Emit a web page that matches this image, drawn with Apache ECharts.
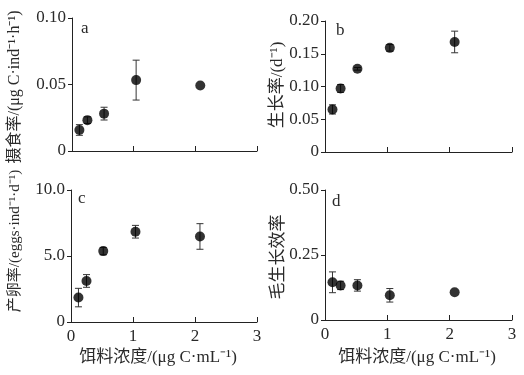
<!DOCTYPE html>
<html>
<head>
<meta charset="utf-8">
<script src="https://cdn.jsdelivr.net/npm/echarts@6/dist/echarts.min.js"></script>
<style>html,body{margin:0;padding:0;background:#fff}#c{width:524px;height:375px}</style>
</head>
<body>
<div id="c"></div>
<script>
// Food concentration (μg C·mL⁻¹)
var conc = [0.12, 0.25, 0.52, 1.04, 2.08];
// a: ingestion rate
var ingestion = [0.0158, 0.0232, 0.0281, 0.0533, 0.0492];
var ingestionErr = [0.004, 0.0025, 0.0048, 0.015, 0];
// b: growth rate
var growth = [0.065, 0.097, 0.127, 0.159, 0.168];
var growthErr = [0.007, 0.006, 0.002, 0.005, 0.0165];
// c: egg production rate
var eggs = [1.85, 3.11, 5.37, 6.84, 6.48];
var eggsErr = [0.7, 0.48, 0.28, 0.48, 0.97];
// d: gross growth efficiency
var gge = [0.145, 0.133, 0.133, 0.095, 0.107];
var ggeErr = [0.040, 0.016, 0.022, 0.026, 0];

var xTicks = ['0', '1', '2', '3'];
var yTickA = ['0', '0.05', '0.10'];
var yTickB = ['0', '0.05', '0.10', '0.15', '0.20'];
var yTickC = ['0', '5.0', '10.0'];
var yTickD = ['0', '0.25', '0.50'];

var panelLetters = ['a', 'b', 'c', 'd'];
var yTitles = ['摄食率/(μg C·ind⁻¹·h⁻¹)', '生长率/(d⁻¹)', '产卵率/(eggs·ind⁻¹·d⁻¹)', '毛生长效率'];
var xTitle = '饵料浓度/(μg C·mL⁻¹)';

var FONT = '"Liberation Serif", "Times New Roman", "Noto Sans CJK SC", serif';
var TXT = '#2a2a2a';

var grids = [
  {left: 72, top: 18, width: 185, height: 133},
  {left: 325, top: 21, width: 187, height: 131},
  {left: 71, top: 190, width: 186, height: 132},
  {left: 325, top: 190, width: 187, height: 130}
];
var yCfg = [
  {max: 0.10, interval: 0.05, labels: yTickA},
  {max: 0.20, interval: 0.05, labels: yTickB},
  {max: 10, interval: 5, labels: yTickC},
  {max: 0.50, interval: 0.25, labels: yTickD}
];
var seriesVals = [ingestion, growth, eggs, gge];
var seriesErrs = [ingestionErr, growthErr, eggsErr, ggeErr];

function makeTickFormatter(labels, interval) {
  return function (v) {
    var i = Math.round(v / interval);
    return labels[i] !== undefined ? labels[i] : '';
  };
}

var xAxes = [], yAxes = [], series = [];
for (var i = 0; i < 4; i++) {
  var bottom = i >= 2;
  xAxes.push({
    gridIndex: i, type: 'value', min: 0, max: 3, interval: 1,
    axisLine: {show: true, lineStyle: {color: '#222', width: 1}},
    axisTick: {show: true, inside: true, length: 5, lineStyle: {color: '#222'}},
    axisLabel: {show: bottom, margin: 6, color: TXT, fontFamily: FONT, fontSize: 17,
      formatter: function (v) { return xTicks[Math.round(v)]; }},
    splitLine: {show: false}
  });
  yAxes.push({
    gridIndex: i, type: 'value', min: 0, max: yCfg[i].max, interval: yCfg[i].interval,
    axisLine: {show: true, lineStyle: {color: '#222', width: 1}},
    axisTick: {show: true, inside: false, length: 4, lineStyle: {color: '#222'}},
    axisLabel: {margin: 6, color: TXT, fontFamily: FONT, fontSize: 17,
      formatter: makeTickFormatter(yCfg[i].labels, yCfg[i].interval)},
    splitLine: {show: false}
  });
  var errData = [], ptData = [];
  for (var k = 0; k < conc.length; k++) {
    var v = seriesVals[i][k], e = seriesErrs[i][k];
    ptData.push([conc[k], v]);
    errData.push([conc[k], v - e, v + e]);
  }
  series.push({
    type: 'custom', xAxisIndex: i, yAxisIndex: i, z: 2, silent: true,
    data: errData,
    encode: {x: 0, y: [1, 2]},
    renderItem: function (params, api) {
      var x = api.value(0), lo = api.value(1), hi = api.value(2);
      if (hi - lo <= 0) return null;
      var pTop = api.coord([x, hi]), pBot = api.coord([x, lo]);
      var cw = 3.5;
      var st = {stroke: '#333', lineWidth: 1};
      return {
        type: 'group',
        children: [
          {type: 'line', shape: {x1: pTop[0], y1: pTop[1], x2: pBot[0], y2: pBot[1]}, style: st},
          {type: 'line', shape: {x1: pTop[0] - cw, y1: pTop[1], x2: pTop[0] + cw, y2: pTop[1]}, style: st},
          {type: 'line', shape: {x1: pBot[0] - cw, y1: pBot[1], x2: pBot[0] + cw, y2: pBot[1]}, style: st}
        ]
      };
    }
  });
  series.push({
    type: 'scatter', xAxisIndex: i, yAxisIndex: i, z: 3,
    symbol: 'circle', symbolSize: 10,
    itemStyle: {color: '#000'},
    data: ptData
  });
}

var graphics = [];
var letterPos = [[81, 20], [336, 22], [78, 190], [332, 193]];
for (var j = 0; j < 4; j++) {
  graphics.push({type: 'text', x: letterPos[j][0], y: letterPos[j][1],
    style: {text: panelLetters[j], font: '17px ' + FONT, fill: TXT}});
}
var yTitlePos = [[15, 87], [278, 85], [15, 241], [279, 257]];
var yTitleSize = [16, 17, 15, 17];
for (var j = 0; j < 4; j++) {
  graphics.push({type: 'text', x: yTitlePos[j][0], y: yTitlePos[j][1], rotation: Math.PI / 2,
    style: {text: yTitles[j], font: yTitleSize[j] + 'px ' + FONT, fill: TXT, align: 'center', verticalAlign: 'middle'}});
}
graphics.push({type: 'text', x: 158, y: 358,
  style: {text: xTitle, font: '17px ' + FONT, fill: TXT, align: 'center', verticalAlign: 'middle'}});
graphics.push({type: 'text', x: 417, y: 358,
  style: {text: xTitle, font: '17px ' + FONT, fill: TXT, align: 'center', verticalAlign: 'middle'}});

var chart = echarts.init(document.getElementById('c'), null, {renderer: 'canvas'});
chart.setOption({
  animation: false,
  backgroundColor: '#fff',
  grid: grids,
  xAxis: xAxes,
  yAxis: yAxes,
  series: series,
  graphic: graphics
});
</script>
</body>
</html>
